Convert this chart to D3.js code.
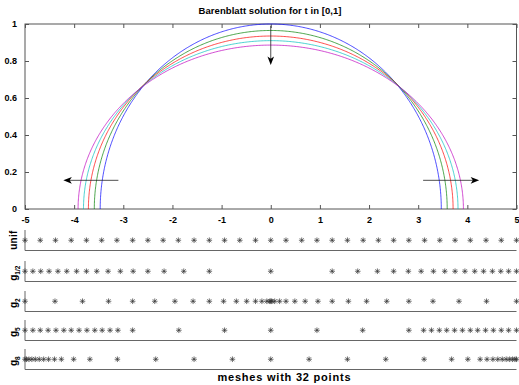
<!DOCTYPE html>
<html>
<head>
<meta charset="utf-8">
<script src="https://cdn.jsdelivr.net/npm/d3@7/dist/d3.min.js"></script>
<style>
  body { margin: 0; background: #fff; }
  svg { display: block; font-family: "Liberation Sans", Arial, Helvetica, sans-serif; font-weight: bold; }
  .axis path, .axis line { stroke: #555; }
  .axis text { font-size: 9px; fill: #000; font-weight: bold; }
</style>
</head>
<body>
<svg width="519" height="385"></svg>
<script>
// Barenblatt profiles: peak value and front position of each curve
const peakHeights = [1.00, 0.965, 0.935, 0.91, 0.886];
const frontPositions = [3.47, 3.59, 3.71, 3.81, 3.92];
const profileExponent = 0.5;   // 1/(m-1) with m = 3
const curveColors = ["#0000ff", "#008000", "#ff0000", "#00bfbf", "#bf00bf"];

const xTickValues = [-5, -4, -3, -2, -1, 0, 1, 2, 3, 4, 5];
const yTickValues = [0, 0.2, 0.4, 0.6, 0.8, 1];

// arrows (data coordinates)
const arrows = [
  { x1: 0, y1: 0.99, x2: 0, y2: 0.778 },
  { x1: -3.1, y1: 0.155, x2: -4.22, y2: 0.155 },
  { x1: 3.1, y1: 0.155, x2: 4.24, y2: 0.155 }
];

// meshes with 32 points
const meshNames = ["unif", "g", "g", "g", "g"];
const meshSubs = ["", "1/2", "2", "5", "8"];
const meshUnif = [-5, -4.69, -4.38, -4.06, -3.75, -3.44, -3.13, -2.81, -2.5, -2.19, -1.88, -1.56, -1.25, -0.94, -0.63, -0.31,
  0, 0.31, 0.63, 0.94, 1.25, 1.56, 1.88, 2.19, 2.5, 2.81, 3.13, 3.44, 3.75, 4.06, 4.38, 4.69, 5];
const meshHalf = [-5, -4.84, -4.68, -4.51, -4.33, -4.15, -3.95, -3.75, -3.54, -3.31, -3.06, -2.8, -2.5, -2.17, -1.77, -1.25,
  0, 1.25, 1.77, 2.17, 2.5, 2.8, 3.06, 3.31, 3.54, 3.75, 3.95, 4.15, 4.33, 4.51, 4.68, 4.84, 5];
const meshTwo = [-5, -4.39, -3.83, -3.3, -2.81, -2.36, -1.95, -1.58, -1.25, -0.96, -0.7, -0.49, -0.31, -0.18, -0.08, -0.02,
  0, 0.02, 0.08, 0.18, 0.31, 0.49, 0.7, 0.96, 1.25, 1.58, 1.95, 2.36, 2.81, 3.3, 3.83, 4.39, 5];
const meshFive = [-5, -4.84, -4.69, -4.53, -4.37, -4.21, -4.06, -3.9, -3.74, -3.58, -3.43, -3.27, -3.11, -2.81, -1.87, -0.94,
  0, 0.94, 1.87, 2.81, 3.11, 3.27, 3.43, 3.58, 3.74, 3.9, 4.06, 4.21, 4.37, 4.53, 4.69, 4.84, 5];
const meshEight = [-5, -4.97, -4.92, -4.86, -4.79, -4.71, -4.62, -4.52, -4.4, -4.26, -4.01, -3.68, -3.12, -2.34, -1.56, -0.78,
  0, 0.78, 1.56, 2.34, 3.12, 3.68, 4.01, 4.26, 4.4, 4.52, 4.62, 4.71, 4.79, 4.86, 4.92, 4.97, 5];
const meshes = [meshUnif, meshHalf, meshTwo, meshFive, meshEight];

const svg = d3.select("svg");

// ---- top plot ----
const x = d3.scaleLinear().domain([-5, 5]).range([25, 516.5]);
const y = d3.scaleLinear().domain([0, 1]).range([209, 24]);

const plotTop = svg.append("g");

// box
plotTop.append("rect")
  .attr("x", x(-5)).attr("y", y(1))
  .attr("width", x(5) - x(-5)).attr("height", y(0) - y(1))
  .attr("fill", "none").attr("stroke", "#555");

plotTop.append("g").attr("class", "axis")
  .attr("transform", `translate(0,${y(0)})`)
  .call(d3.axisBottom(x).tickValues(xTickValues).tickFormat(d => String(d)).tickSize(-4).tickPadding(8))
  .call(g => g.select(".domain").remove());
plotTop.append("g").attr("class", "axis")
  .attr("transform", `translate(0,${y(1)})`)
  .call(d3.axisTop(x).tickValues(xTickValues).tickFormat("").tickSize(-4))
  .call(g => g.select(".domain").remove());
plotTop.append("g").attr("class", "axis")
  .attr("transform", `translate(${x(-5)},0)`)
  .call(d3.axisLeft(y).tickValues(yTickValues).tickFormat(d => String(d)).tickSize(-4).tickPadding(8))
  .call(g => g.select(".domain").remove());
plotTop.append("g").attr("class", "axis")
  .attr("transform", `translate(${x(5)},0)`)
  .call(d3.axisRight(y).tickValues(yTickValues).tickFormat("").tickSize(-4))
  .call(g => g.select(".domain").remove());

// curves
const line = d3.line().x(d => x(d[0])).y(d => y(d[1]));
const thetas = d3.range(0, 401).map(i => Math.PI * i / 400);
peakHeights.forEach((h, i) => {
  const w = frontPositions[i];
  const pts = thetas.map(t => {
    const s = -Math.cos(t);
    return [w * s, h * Math.pow(Math.max(0, 1 - s * s), profileExponent)];
  });
  plotTop.append("path")
    .attr("d", line(pts))
    .attr("fill", "none")
    .attr("stroke", curveColors[i])
    .attr("stroke-width", 0.7);
});

// arrows
arrows.forEach(a => {
  const X1 = x(a.x1), Y1 = y(a.y1), X2 = x(a.x2), Y2 = y(a.y2);
  const len = Math.hypot(X2 - X1, Y2 - Y1);
  const ux = (X2 - X1) / len, uy = (Y2 - Y1) / len;
  const px = -uy, py = ux;
  const L = 8.5, W = 3.3, N = 2.2;
  plotTop.append("line")
    .attr("x1", X1).attr("y1", Y1)
    .attr("x2", X2 - ux * L * 0.6).attr("y2", Y2 - uy * L * 0.6)
    .attr("stroke", "#222").attr("stroke-width", 0.8);
  const head = [
    [X2, Y2],
    [X2 - ux * L + px * W, Y2 - uy * L + py * W],
    [X2 - ux * (L - N), Y2 - uy * (L - N)],
    [X2 - ux * L - px * W, Y2 - uy * L - py * W]
  ];
  plotTop.append("path")
    .attr("d", "M" + head.map(p => p.join(",")).join("L") + "Z")
    .attr("fill", "#000");
});

svg.append("text")
  .attr("x", 270).attr("y", 14)
  .attr("text-anchor", "middle")
  .attr("font-size", 9.5)
  .attr("textLength", 143)
  .attr("lengthAdjust", "spacing")
  .text("Barenblatt solution for t in [0,1]");

// ---- mesh rows ----
const rowTops = [230, 261, 291, 320, 349];
const rowH = 20.5;
const star = "M-2.8,0L2.8,0M0,-2.8L0,2.8M-2,-2L2,2M-2,2L2,-2";

meshes.forEach((mesh, r) => {
  const ry = d3.scaleLinear().domain([-1, 1]).range([rowTops[r] + rowH, rowTops[r]]);
  const g = svg.append("g");
  g.append("path")
    .attr("d", `M${x(-5)},${ry(1)}V${ry(-1)}H${x(5)}`)
    .attr("fill", "none").attr("stroke", "#666");
  g.selectAll("path.star")
    .data(mesh)
    .enter()
    .append("path")
    .attr("class", "star")
    .attr("d", star)
    .attr("transform", d => `translate(${x(d)},${ry(0)})`)
    .attr("stroke", "#333")
    .attr("stroke-width", 0.7);

  const lab = g.append("text")
    .attr("transform", `translate(17,${ry(0) + (meshSubs[r] ? 2 : 0)}) rotate(-90)`)
    .attr("text-anchor", "middle")
    .attr("font-size", 10);
  if (meshSubs[r]) {
    lab.append("tspan").text(meshNames[r]);
    lab.append("tspan").attr("font-size", 6.5).attr("dy", 2.5).text(meshSubs[r]);
  } else {
    lab.attr("textLength", 19).attr("lengthAdjust", "spacing").text(meshNames[r]);
  }
});

svg.append("text")
  .attr("x", 284).attr("y", 381)
  .attr("text-anchor", "middle")
  .attr("font-size", 11)
  .attr("textLength", 133)
  .attr("lengthAdjust", "spacing")
  .text("meshes with 32 points");
</script>
</body>
</html>
